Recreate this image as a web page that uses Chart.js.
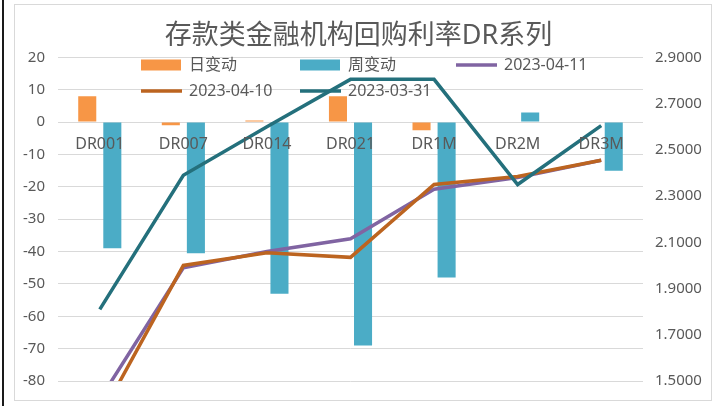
<!DOCTYPE html>
<html>
<head>
<meta charset="utf-8">
<script src="https://cdn.jsdelivr.net/npm/chart.js@4.4.0/dist/chart.umd.min.js"></script>
<style>
  body { margin: 0; background: #fff; }
</style>
</head>
<body>
<canvas id="drChart" width="715" height="406"></canvas>
<script>
// categorias e valores
const categories = ['DR001', 'DR007', 'DR014', 'DR021', 'DR1M', 'DR2M', 'DR3M'];
const dailyChange = [8, -1, 0.5, 8, -2.5, 0, 0];            // 日变动 (bp)
const weeklyChange = [-39, -40.5, -53, -69, -48, 3, -15];   // 周变动 (bp)
const rate0411 = [1.42, 1.99, 2.06, 2.115, 2.33, 2.38, 2.455];
const rate0410 = [1.34, 2.00, 2.055, 2.035, 2.35, 2.385, 2.455];
const rate0331 = [1.81, 2.39, 2.60, 2.805, 2.805, 2.35, 2.605];

const leftTicks = { min: -80, max: 20, step: 10 };
const rightTicks = { min: 1.5, max: 2.9, step: 0.2 };

const textGray = '#595959';
const fontStack = '"Noto Sans", "Noto Sans CJK SC", sans-serif';

// fundo branco e moldura cinza
const framePlugin = {
    id: 'frame',
    beforeDraw(chart) {
        const ctx = chart.ctx;
        ctx.save();
        ctx.fillStyle = '#fff';
        ctx.fillRect(0, 0, chart.width, chart.height);
        ctx.strokeStyle = '#d9d9d9';
        ctx.lineWidth = 1;
        ctx.strokeRect(14.5, 4.5, 697, 396);
        ctx.strokeStyle = '#1a1a1a';
        ctx.lineWidth = 2;
        ctx.beginPath();
        ctx.moveTo(3, 0);
        ctx.lineTo(3, chart.height);
        ctx.stroke();
        ctx.restore();
    }
};

// legenda em colunas fixas, sobreposta à área do gráfico (como no Excel)
const legendPlugin = {
    id: 'gridLegend',
    afterDraw(chart) {
        const ctx = chart.ctx;
        const cols = [141, 300, 456];
        const rows = [65, 91];
        ctx.save();
        ctx.font = '16px ' + fontStack;
        ctx.textBaseline = 'middle';
        chart.data.datasets.forEach((ds, i) => {
            const x = cols[i % 3];
            const y = rows[Math.floor(i / 3)];
            if (ds.type === 'bar') {
                ctx.fillStyle = ds.backgroundColor;
                ctx.fillRect(x, y - 5.5, 40, 11);
            } else {
                ctx.strokeStyle = ds.borderColor;
                ctx.lineWidth = 3.5;
                ctx.beginPath();
                ctx.moveTo(x, y);
                ctx.lineTo(x + 41, y);
                ctx.stroke();
            }
            ctx.fillStyle = textGray;
            ctx.fillText(ds.label, x + 48, y);
        });
        ctx.restore();
    }
};

const ctx = document.getElementById('drChart').getContext('2d');
const drChart = new Chart(ctx, {
    data: {
        labels: categories,
        datasets: [
            {
                type: 'bar',
                label: '日变动',
                data: dailyChange,
                yAxisID: 'y',
                backgroundColor: '#F79646',
                categoryPercentage: 0.6,
                barPercentage: 0.72,
                order: 3
            },
            {
                type: 'bar',
                label: '周变动',
                data: weeklyChange,
                yAxisID: 'y',
                backgroundColor: '#4BACC6',
                categoryPercentage: 0.6,
                barPercentage: 0.72,
                order: 4
            },
            {
                type: 'line',
                label: '2023-04-11',
                data: rate0411,
                yAxisID: 'y1',
                borderColor: '#8064A2',
                borderWidth: 3.5,
                pointRadius: 0,
                tension: 0,
                order: 2
            },
            {
                type: 'line',
                label: '2023-04-10',
                data: rate0410,
                yAxisID: 'y1',
                borderColor: '#BC6420',
                borderWidth: 3.5,
                pointRadius: 0,
                tension: 0,
                order: 1
            },
            {
                type: 'line',
                label: '2023-03-31',
                data: rate0331,
                yAxisID: 'y1',
                borderColor: '#24707C',
                borderWidth: 3.5,
                pointRadius: 0,
                tension: 0,
                order: 0
            }
        ]
    },
    options: {
        responsive: false,
        animation: false,
        layout: {
            padding: { left: 14, right: 12, top: 0, bottom: 25 }
        },
        plugins: {
            legend: { display: false },
            tooltip: { enabled: false },
            title: {
                display: true,
                text: '存款类金融机构回购利率DR系列',
                color: textGray,
                font: { family: fontStack, size: 27, weight: 'normal' },
                padding: { top: 20, bottom: 5 }
            }
        },
        scales: {
            x: {
                type: 'category',
                position: { y: 0 },
                offset: true,
                grid: { display: false, drawTicks: false },
                border: { display: false },
                ticks: {
                    z: 1, // rótulos por cima das barras
                    color: textGray,
                    padding: 13,
                    maxRotation: 0,
                    autoSkip: false,
                    font: { family: fontStack, size: 16 }
                }
            },
            y: {
                type: 'linear',
                position: 'left',
                min: leftTicks.min,
                max: leftTicks.max,
                grid: { color: '#d9d9d9', lineWidth: 1, drawTicks: false },
                border: { display: false },
                ticks: {
                    stepSize: leftTicks.step,
                    color: textGray,
                    padding: 13,
                    font: { family: fontStack, size: 15 }
                },
                afterFit(scale) { scale.width = 44; }
            },
            y1: {
                type: 'linear',
                position: 'right',
                min: rightTicks.min,
                max: rightTicks.max,
                grid: { display: false, drawTicks: false },
                border: { display: false },
                ticks: {
                    stepSize: rightTicks.step,
                    color: textGray,
                    padding: 12,
                    font: { family: fontStack, size: 15 },
                    callback: (v) => Number(v).toFixed(4)
                },
                afterFit(scale) { scale.width = 60; }
            }
        }
    },
    plugins: [framePlugin, legendPlugin]
});
</script>
</body>
</html>
